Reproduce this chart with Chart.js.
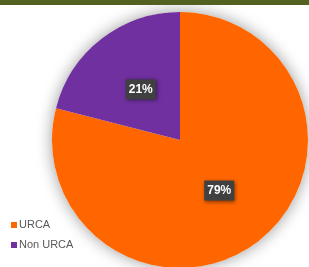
<!DOCTYPE html>
<html><head><meta charset="utf-8">
<script src="https://cdn.jsdelivr.net/npm/chart.js@4/dist/chart.umd.min.js"></script>
<style>
html,body{margin:0;padding:0;overflow:hidden;background:#fff;}
#wrap{position:relative;width:309px;height:290px;}
</style></head><body>
<div id="wrap"><canvas id="c"></canvas></div>
<script>
const categories = ["URCA", "Non URCA"];
const values = [79, 21];
const percentLabels = ["79%", "21%"];
const colors = ["#FF6600", "#7030A0"];

const decor = {
  id: 'decor',
  beforeDatasetsDraw(chart) {
    const meta = chart.getDatasetMeta(0);
    const arc = meta.data[0];
    const ctx = chart.ctx;
    ctx.save();
    ctx.shadowColor = 'rgba(0,0,0,0.4)';
    ctx.shadowBlur = 16;
    ctx.fillStyle = '#fff';
    ctx.beginPath();
    ctx.arc(arc.x, arc.y, arc.outerRadius, 0, Math.PI * 2);
    ctx.fill();
    ctx.restore();
  },
  afterDraw(chart) {
    const ctx = chart.ctx;
    ctx.save();
    ctx.fillStyle = '#536121';
    ctx.fillRect(0, 0, chart.width, 5);
    const meta = chart.getDatasetMeta(0);
    meta.data.forEach((arc, i) => {
      const mid = (arc.startAngle + arc.endAngle) / 2;
      const r = arc.outerRadius * 0.5;
      const x = arc.x + Math.cos(mid) * r;
      const y = arc.y + Math.sin(mid) * r;
      ctx.save();
      ctx.shadowColor = 'rgba(0,0,0,0.5)';
      ctx.shadowBlur = 4;
      ctx.shadowOffsetX = 1;
      ctx.shadowOffsetY = 1;
      ctx.fillStyle = '#404040';
      ctx.fillRect(x - 15, y - 10, 30, 20);
      ctx.restore();
      ctx.fillStyle = '#ffffff';
      ctx.font = 'bold 12px "Liberation Sans", Arial, sans-serif';
      ctx.textAlign = 'center';
      ctx.textBaseline = 'middle';
      ctx.fillText(percentLabels[i], x, y + 0.5);
    });
    ctx.font = '11px "Liberation Sans", Arial, sans-serif';
    ctx.textAlign = 'left';
    ctx.textBaseline = 'middle';
    categories.forEach((c, i) => {
      const y = 225 + i * 20;
      ctx.fillStyle = colors[i];
      ctx.fillRect(11, y - 3, 6, 6);
      ctx.fillStyle = '#595959';
      ctx.fillText(c, 19, y);
    });
    ctx.restore();
  }
};

new Chart(document.getElementById('c'), {
  type: 'pie',
  data: {
    labels: categories,
    datasets: [{
      data: values,
      backgroundColor: colors,
      borderWidth: 0
    }]
  },
  options: {
    responsive: true,
    maintainAspectRatio: false,
    animation: false,
    layout: { padding: { top: 12, bottom: 22, left: 52, right: 1 } },
    plugins: { legend: { display: false }, tooltip: { enabled: false } }
  },
  plugins: [decor]
});
</script>
</body></html>
